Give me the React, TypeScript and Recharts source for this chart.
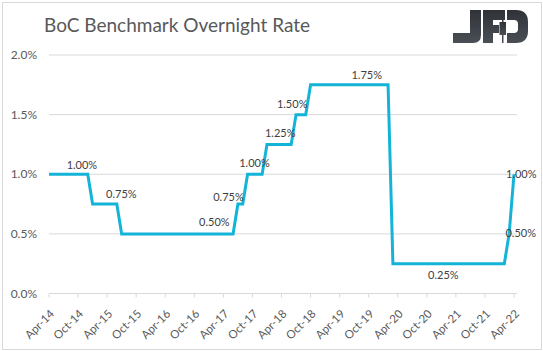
import React from 'react';
import { LineChart, Line, XAxis, YAxis, CartesianGrid } from 'recharts';

// Monthly, Apr-14 .. Apr-22 (month-end policy rate)
const months = [
  'Apr-14', 'May-14', 'Jun-14', 'Jul-14', 'Aug-14', 'Sep-14', 'Oct-14', 'Nov-14', 'Dec-14',
  'Jan-15', 'Feb-15', 'Mar-15', 'Apr-15', 'May-15', 'Jun-15', 'Jul-15', 'Aug-15', 'Sep-15', 'Oct-15', 'Nov-15', 'Dec-15',
  'Jan-16', 'Feb-16', 'Mar-16', 'Apr-16', 'May-16', 'Jun-16', 'Jul-16', 'Aug-16', 'Sep-16', 'Oct-16', 'Nov-16', 'Dec-16',
  'Jan-17', 'Feb-17', 'Mar-17', 'Apr-17', 'May-17', 'Jun-17', 'Jul-17', 'Aug-17', 'Sep-17', 'Oct-17', 'Nov-17', 'Dec-17',
  'Jan-18', 'Feb-18', 'Mar-18', 'Apr-18', 'May-18', 'Jun-18', 'Jul-18', 'Aug-18', 'Sep-18', 'Oct-18', 'Nov-18', 'Dec-18',
  'Jan-19', 'Feb-19', 'Mar-19', 'Apr-19', 'May-19', 'Jun-19', 'Jul-19', 'Aug-19', 'Sep-19', 'Oct-19', 'Nov-19', 'Dec-19',
  'Jan-20', 'Feb-20', 'Mar-20', 'Apr-20', 'May-20', 'Jun-20', 'Jul-20', 'Aug-20', 'Sep-20', 'Oct-20', 'Nov-20', 'Dec-20',
  'Jan-21', 'Feb-21', 'Mar-21', 'Apr-21', 'May-21', 'Jun-21', 'Jul-21', 'Aug-21', 'Sep-21', 'Oct-21', 'Nov-21', 'Dec-21',
  'Jan-22', 'Feb-22', 'Mar-22', 'Apr-22',
];

const rates = [
  1.0, 1.0, 1.0, 1.0, 1.0, 1.0, 1.0, 1.0, 1.0,
  0.75, 0.75, 0.75, 0.75, 0.75, 0.75, 0.5, 0.5, 0.5, 0.5, 0.5, 0.5,
  0.5, 0.5, 0.5, 0.5, 0.5, 0.5, 0.5, 0.5, 0.5, 0.5, 0.5, 0.5,
  0.5, 0.5, 0.5, 0.5, 0.5, 0.5, 0.75, 0.75, 1.0, 1.0, 1.0, 1.0,
  1.25, 1.25, 1.25, 1.25, 1.25, 1.25, 1.5, 1.5, 1.5, 1.75, 1.75, 1.75,
  1.75, 1.75, 1.75, 1.75, 1.75, 1.75, 1.75, 1.75, 1.75, 1.75, 1.75, 1.75,
  1.75, 1.75, 0.25, 0.25, 0.25, 0.25, 0.25, 0.25, 0.25, 0.25, 0.25, 0.25,
  0.25, 0.25, 0.25, 0.25, 0.25, 0.25, 0.25, 0.25, 0.25, 0.25, 0.25, 0.25,
  0.25, 0.25, 0.5, 1.0,
];

// months that carry a data label
const labelMonths = [
  'Nov-14', 'Jun-15', 'Feb-17', 'Aug-17', 'Oct-17', 'Apr-18',
  'Aug-18', 'Oct-19', 'Jan-21', 'Mar-22', 'Apr-22',
];

const yTicks = [0, 0.5, 1, 1.5, 2];

const data = months.map((month, i) => ({ month, rate: rates[i] }));

// label offsets relative to the point (center of text)
const labelOffsets: Record<string, { dx: number; dy: number }> = {
  'Nov-14': { dx: -1, dy: -9 },
  'Jun-15': { dx: 4.5, dy: -10 },
  'Feb-17': { dx: 0.7, dy: -12 },
  'Aug-17': { dx: -14.3, dy: -7.4 },
  'Oct-17': { dx: 2, dy: -11 },
  'Apr-18': { dx: -1.3, dy: -11 },
  'Aug-18': { dx: -8.7, dy: -10.3 },
  'Oct-19': { dx: -2, dy: -10 },
  'Jan-21': { dx: 2, dy: 11 },
  'Mar-22': { dx: 11.6, dy: -0.6 },
  'Apr-22': { dx: 7.3, dy: 0 },
};

const FONT = 'Lato, "Open Sans", sans-serif';
const TEXT = '#595959';
const GRID = '#d9d9d9';
const LINE = '#14b4d8';

const renderLabel = (props: any) => {
  const { x, y, index, value } = props;
  const m = months[index];
  if (!labelMonths.includes(m)) return <g key={`l-${index}`} />;
  const o = labelOffsets[m];
  return (
    <text
      key={`l-${index}`}
      x={x + o.dx}
      y={y + o.dy}
      dy={4}
      textAnchor="middle"
      fontSize={11}
      fontFamily={FONT}
      fill="#404040"
    >
      {`${Number(value).toFixed(2)}%`}
    </text>
  );
};

const XTick = (props: any) => {
  const { x, y, payload } = props;
  const px = x + 6;
  const py = y + 15;
  return (
    <text
      x={px}
      y={py}
      textAnchor="end"
      transform={`rotate(-45 ${px} ${py})`}
      fontSize={11.5}
      fontFamily={FONT}
      fill={TEXT}
    >
      {payload.value}
    </text>
  );
};

const YTick = (props: any) => {
  const { y, payload } = props;
  return (
    <text x={37} y={y} dy={4} textAnchor="end" fontSize={12} fontFamily={FONT} fill={TEXT}>
      {`${Number(payload.value).toFixed(1)}%`}
    </text>
  );
};

function Logo() {
  return (
    <svg width={543} height={60} style={{ position: 'absolute', left: 0, top: 0 }}>
      <defs>
        <linearGradient id="lg" x1="0" y1="0" x2="0" y2="1">
          <stop offset="0" stopColor="#2f3338" />
          <stop offset="1" stopColor="#4a4f56" />
        </linearGradient>
      </defs>
      <g fill="url(#lg)">
        {/* J */}
        <path d="M470,10 H481 V35 Q481,43 473,43 H453 V33 H470 Z" />
        {/* F */}
        <path d="M483,10 H505 V20 H493 V25 H499 V33 H493 V43 H483 Z" />
        {/* candle */}
        <rect x={502} y={10} width={1.5} height={33} />
        <rect x={499.5} y={22} width={6.5} height={13} />
        {/* D */}
        <path d="M507,10 H516 Q528,10 528,22 V31 Q528,43 516,43 H507 V33 H514 Q518,33 518,29 V24 Q518,20 514,20 H507 Z" />
      </g>
    </svg>
  );
}

export default function App() {
  return (
    <div style={{ position: 'relative', width: 543, height: 351, background: '#fff' }}>
      <style>{`body{margin:0}`}</style>
      <LineChart
        width={543}
        height={351}
        data={data}
        margin={{ top: 55, right: 26, left: 0, bottom: 0 }}
      >
        <CartesianGrid vertical={false} stroke={GRID} />
        <XAxis
          dataKey="month"
          interval={5}
          height={57.5}
          padding={{ left: 0, right: 3 }}
          axisLine={{ stroke: GRID }}
          tickLine={{ stroke: GRID }}
          tickSize={4}
          tick={<XTick />}
        />
        <YAxis
          width={49}
          domain={[0, 2]}
          ticks={yTicks}
          axisLine={false}
          tickLine={false}
          tick={<YTick />}
        />
        <Line
          type="linear"
          dataKey="rate"
          stroke={LINE}
          strokeWidth={3}
          dot={false}
          isAnimationActive={false}
          label={renderLabel}
        />
      </LineChart>
      <div
        style={{
          position: 'absolute',
          left: 44,
          top: 13,
          fontFamily: FONT,
          fontSize: 19,
          color: TEXT,
          whiteSpace: 'nowrap',
        }}
      >
        BoC Benchmark Overnight Rate
      </div>
      <Logo />
      <div
        style={{
          position: 'absolute',
          left: 2,
          top: 2,
          width: 538,
          height: 346,
          border: `1px solid ${GRID}`,
          pointerEvents: 'none',
        }}
      />
    </div>
  );
}
